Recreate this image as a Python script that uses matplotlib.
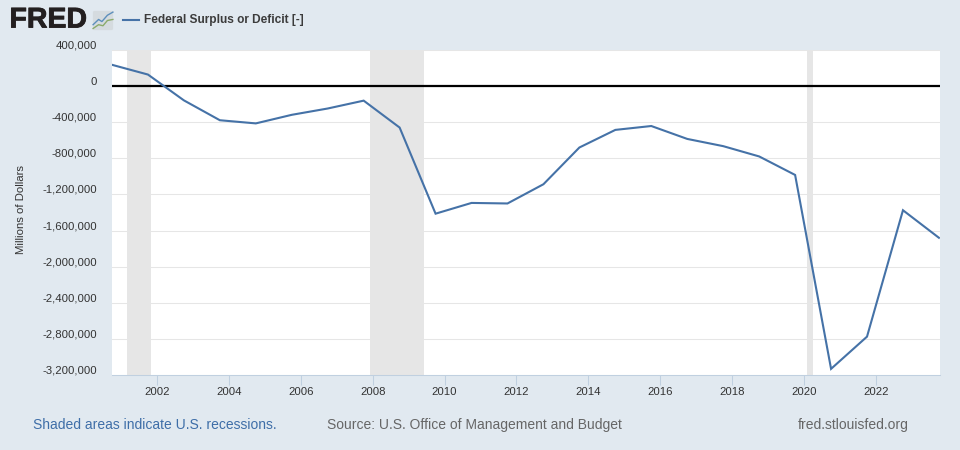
import numpy as np
import matplotlib
matplotlib.use('Agg')
import matplotlib.pyplot as plt
import matplotlib.patheffects as pe
from matplotlib.patches import FancyBboxPatch
from matplotlib.transforms import ScaledTranslation

plt.rcParams['font.family'] = ['Liberation Sans', 'DejaVu Sans']

# fiscal year values, plotted at Oct 1 of each year
years = [y + 0.75 for y in range(2000, 2024)]
deficit = [236000, 128000, -158000, -378000, -413000, -318000, -248000, -161000,
           -459000, -1413000, -1294000, -1300000, -1087000, -680000, -485000, -442000,
           -585000, -665000, -779000, -984000, -3132000, -2775000, -1375000, -1680000]
recession_start = [2001.17, 2007.92, 2020.09]
recession_end = [2001.83, 2009.42, 2020.25]
yticks = [400000, 0, -400000, -800000, -1200000, -1600000, -2000000, -2400000, -2800000, -3200000]
xticks = list(range(2002, 2024, 2))

bg = '#e1e9f0'
W, H = 960, 450
fig = plt.figure(figsize=(9.6, 4.5), dpi=100, facecolor=bg)
ax = fig.add_axes([112 / W, 1 - 375 / H, (940 - 112) / W, (375 - 50) / H])

for a, b in zip(recession_start, recession_end):
    ax.axvspan(a, b, color='#e6e6e6', lw=0, zorder=1)

ax.plot(years, deficit, color='#4572a7', lw=1.5, zorder=3, solid_joinstyle='miter')
ax.axhline(0, color='black', lw=1.6, zorder=2)

ax.set_xlim(2000.75, 2023.78)
ax.set_ylim(-3200000, 400000)
ax.set_yticks(yticks)
ax.set_yticklabels([f'{v:,}' for v in yticks], fontsize=8.2, color='#333333')
ax.set_xticks(xticks)
ax.set_xticklabels([str(v) for v in xticks], fontsize=8.2, color='#333333')
ax.grid(axis='y', color='#e6e6e6', lw=0.75, zorder=0)
ax.set_axisbelow(True)
ax.tick_params(axis='y', length=0, pad=10.8)
ax.tick_params(axis='x', length=7.2, width=0.75, color='#c0d0e0', pad=1.5)
for s in ['top', 'right', 'left']:
    ax.spines[s].set_visible(False)
ax.spines['bottom'].set_color('#c0d0e0')
ax.spines['bottom'].set_linewidth(0.75)

# labels sit a little above their grid lines
shift = ScaledTranslation(0, 5.5 / 100, fig.dpi_scale_trans)
for t in ax.get_yticklabels():
    t.set_transform(t.get_transform() + shift)

fig.text(21 / W, 1 - 210 / H, 'Millions of Dollars', rotation=90, ha='center', va='center',
         fontsize=8.2, color='#333333')

# header
fig.text(9.5 / W, 1 - 20.5 / H, 'FRED', fontsize=20.5, fontweight='bold', color='#231f20',
         ha='left', va='center',
         path_effects=[pe.withStroke(linewidth=0.6, foreground='#231f20')])
logo = fig.add_axes([92 / W, 1 - 31 / H, 22 / W, 21 / H])
logo.set_xlim(0, 1)
logo.set_ylim(0, 1)
logo.axis('off')
logo.add_patch(FancyBboxPatch((0.04, 0.04), 0.92, 0.92, boxstyle='round,pad=0,rounding_size=0.08',
                              fc='#d5dbdf', ec='none'))
logo.plot([0.05, 0.3, 0.45, 0.7, 0.95], [0.3, 0.55, 0.45, 0.75, 0.9], color='#5d8fbc', lw=1)
logo.plot([0.05, 0.3, 0.5, 0.7, 0.95], [0.12, 0.3, 0.25, 0.5, 0.55], color='#8bab6b', lw=1)

fig.add_artist(plt.Line2D([123 / W, 139 / W], [1 - 20 / H, 1 - 20 / H], color='#4572a7', lw=1.5))
fig.text(144 / W, 1 - 20 / H, 'Federal Surplus or Deficit [-]', fontsize=8.6, fontweight='bold',
         color='#3c3c3c', ha='left', va='center')

# footer
fig.text(33 / W, 1 - 425 / H, 'Shaded areas indicate U.S. recessions.', fontsize=10.03,
         color='#3e6ea8', ha='left', va='center')
fig.text(327 / W, 1 - 425 / H, 'Source: U.S. Office of Management and Budget', fontsize=10.03,
         color='#666666', ha='left', va='center')
fig.text(798 / W, 1 - 425 / H, 'fred.stlouisfed.org', fontsize=10.03,
         color='#666666', ha='left', va='center')

fig.savefig('out.png', dpi=100, facecolor=bg)
